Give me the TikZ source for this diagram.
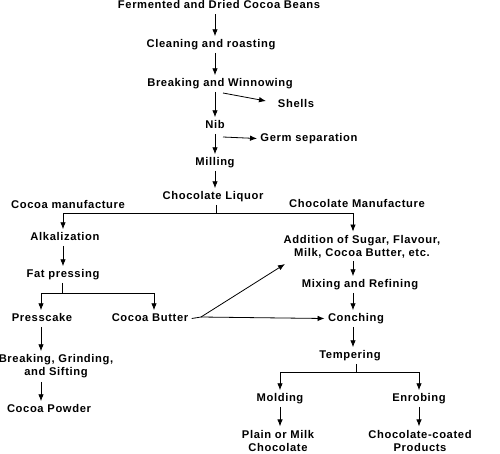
\documentclass[tikz,border=0pt]{standalone}
\usepackage{fontspec}
\setmainfont{Liberation Sans}[LetterSpace=5.5]
\usetikzlibrary{arrows.meta,calc}
\begin{document}
\begin{tikzpicture}[x=1pt,y=-1pt,
  lbl/.style={font=\bfseries\fontsize{11.2}{13}\selectfont, inner sep=2pt, outer sep=1.5pt,
     text height=7.5pt, text depth=2pt, align=center, yshift=-1.5pt},
  lbl2/.style={lbl, text height=, text depth=, yshift=0pt},
  arr/.style={-{Latex[length=7pt,width=5.5pt]}, line width=0.8pt},
  ln/.style={line width=0.8pt}]
\useasboundingbox (0,0) rectangle (500,453);
% main column
\coordinate (m) at (215,0);
\node[lbl] (beans) at (219,4.5) {Fermented and Dried Cocoa Beans};
\node[lbl] (clean) at (211,43) {Cleaning and roasting};
\node[lbl] (break) at (220,82) {Breaking and Winnowing};
\node[lbl] (shells) at (296,103) {Shells};
\node[lbl] (nib) at (215,124) {Nib};
\node[lbl] (germ) at (309,137) {Germ separation};
\node[lbl] (mill) at (215,161) {Milling};
\node[lbl] (liq) at (213,195) {Chocolate Liquor};
\draw[arr] (beans.south -| m) -- (clean.north -| m);
\draw[arr] (clean.south -| m) -- (break.north -| m);
\draw[arr] (break.south -| m) -- (nib.north -| m);
\coordinate (sh0) at (223,93);
\draw[arr] (sh0) -- (266,101) coordinate (sh1);
\coordinate (g0) at (223,137);
\draw[arr] (g0) -- (germ.west);
\draw[arr] (nib.south -| m) -- (mill.north -| m);
\draw[arr] (mill.south -| m) -- (liq.north -| m);
% split
\node[lbl] (cocman) at (68,204) {Cocoa manufacture};
\node[lbl] (choman) at (357,203) {Chocolate Manufacture};
\coordinate (sp) at (216,213);
\coordinate (lc) at (63,0);
\coordinate (rc) at (353,0);
\draw[ln] (liq.south -| sp) -- (sp);
% left branch
\node[lbl] (alk) at (65,236) {Alkalization};
\node[lbl] (fat) at (63,273) {Fat pressing};
\draw[arr] (sp) -| (alk.north -| lc);
\draw[arr] (alk.south -| lc) -- (fat.north -| lc);
\coordinate (fp) at (62,293);
\draw[ln] (fat.south -| fp) -- (fp);
\node[lbl] (press) at (42,317) {Presscake};
\node[lbl] (butter) at (150,317) {Cocoa Butter};
\coordinate (pc) at (41,0);
\coordinate (bc) at (154,0);
\draw[arr] (fp) -| (press.north -| pc);
\draw[arr] (fp) -| (butter.north -| bc);
\node[lbl2] (bgs) at (56,365) {Breaking, Grinding,\\ and Sifting};
\node[lbl] (powder) at (49,408) {Cocoa Powder};
\draw[arr] (press.south -| pc) -- (bgs.north -| pc);
\draw[arr] (bgs.south -| pc) -- (powder.north -| pc);
% right branch
\node[lbl2] (add) at (362,245) {Addition of Sugar, Flavour,\\ Milk, Cocoa Butter, etc.};
\node[lbl] (mix) at (360,283) {Mixing and Refining};
\node[lbl] (conch) at (356,317) {Conching};
\node[lbl] (temp) at (350,354) {Tempering};
\draw[arr] (sp) -| (add.north -| rc);
\draw[arr] (add.south -| rc) -- (mix.north -| rc);
\draw[arr] (mix.south -| rc) -- (conch.north -| rc);
\draw[arr] (conch.south -| rc) -- (temp.north -| rc);
\coordinate (cb) at (201,317);
\draw[ln] (butter.east) -- (cb);
\draw[arr] (cb) -- (285,264) coordinate (cbt);
\draw[arr] (cb) -- (conch.west);
% tempering split
\coordinate (tp) at (356,372);
\draw[ln] (temp.south -| tp) -- (tp);
\node[lbl] (mold) at (280,397) {Molding};
\node[lbl] (enrob) at (419,397) {Enrobing};
\coordinate (mc) at (280,0);
\coordinate (ec) at (419,0);
\draw[arr] (tp) -| (mold.north -| mc);
\draw[arr] (tp) -| (enrob.north -| ec);
\node[lbl2] (plain) at (278,439) {Plain or Milk\\ Chocolate};
\node[lbl2] (coated) at (420,439) {Chocolate-coated\\ Products};
\draw[arr] (mold.south -| mc) -- (plain.north -| mc);
\draw[arr] (enrob.south -| ec) -- (coated.north -| ec);
\end{tikzpicture}
\end{document}
